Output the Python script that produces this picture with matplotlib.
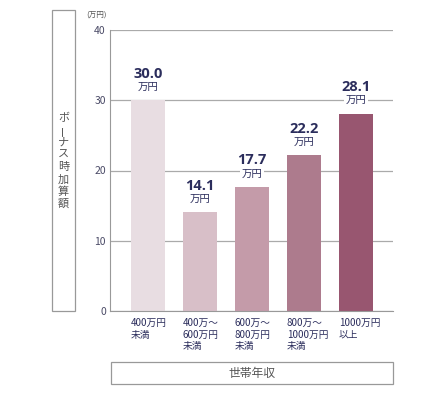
import matplotlib
matplotlib.use("Agg")
import matplotlib.pyplot as plt
from matplotlib.patches import Rectangle

plt.rcParams['font.family'] = ['Noto Sans CJK JP', 'DejaVu Sans']

categories = ["400万円\n未満", "400万～\n600万円\n未満", "600万～\n800万円\n未満", "800万～\n1000万円\n未満", "1000万円\n以上"]
values = [30.0, 14.1, 17.7, 22.2, 28.1]
colors = ["#e8dde2", "#d8bfc8", "#c49ba9", "#ad7b8d", "#985670"]
yticks = [0, 10, 20, 30, 40]
ylabel = "ボーナス時加算額"
xlabel = "世帯年収"
unit = "(万円)"

fig = plt.figure(figsize=(4.45, 3.95), dpi=100)
W, H = 445, 395
ax = fig.add_axes([110 / W, 1 - 311 / H, (393 - 110) / W, (311 - 30) / H])

x = list(range(len(values)))
ax.bar(x, values, width=0.66, color=colors, zorder=2)
ax.set_xlim(-0.73, 4.71)
ax.set_ylim(0, 40)
ax.set_yticks(yticks)
ax.yaxis.grid(True, color="#aaaaaa", linewidth=0.9, zorder=0)
ax.set_axisbelow(True)
for s in ["top", "right"]:
    ax.spines[s].set_visible(False)
ax.spines["left"].set_color("#999999")
ax.spines["bottom"].set_color("#999999")
ax.tick_params(axis="y", length=0, labelsize=7.5, colors="#4a4a66", pad=3)
ax.tick_params(axis="x", length=0)
ax.set_xticks(x)
ax.set_xticklabels([])

for xi, c in zip(x, categories):
    ax.annotate(c, (xi - 0.33, 0), xytext=(0, -5), textcoords="offset points",
                ha="left", va="top", fontsize=7, color="#2b2d5c", linespacing=1.2)

for xi, v in zip(x, values):
    ax.annotate("万円", (xi, v), xytext=(0, 9.5), textcoords="offset points",
                ha="center", va="center", fontsize=7.5, color="#2b2d5c", zorder=5,
                bbox=dict(boxstyle="square,pad=0.15", facecolor="white", edgecolor="none"))
    ax.annotate(f"{v:.1f}", (xi, v), xytext=(0, 19), textcoords="offset points",
                ha="center", va="center", fontsize=10.5, fontweight="bold", color="#2b2d5c",
                zorder=5, family=["Open Sans", "DejaVu Sans"])

fig.text(107 / W, 1 - 16 / H, unit, ha="right", va="center", fontsize=5.5, color="#555555")

# left box
fig.patches.append(Rectangle((52 / W, 1 - 311 / H), (75 - 52) / W, (311 - 10) / H,
                             transform=fig.transFigure, fill=False, edgecolor="#999999", linewidth=0.9))
pitch = 12.2
n = len(ylabel)
y0 = 161 - pitch * (n - 1) / 2
for i, ch in enumerate(ylabel):
    fig.text(63.5 / W, 1 - (y0 + i * pitch) / H, ch, ha="center", va="center", fontsize=8,
             color="#555555", rotation=90 if ch == "ー" else 0)

# bottom box
fig.patches.append(Rectangle((111 / W, 1 - 384 / H), (393 - 111) / W, (384 - 362) / H,
                             transform=fig.transFigure, fill=False, edgecolor="#999999", linewidth=0.9))
fig.text(252 / W, 1 - 373 / H, xlabel, ha="center", va="center", fontsize=8.5, color="#555555")

fig.savefig("out.png", dpi=100)
